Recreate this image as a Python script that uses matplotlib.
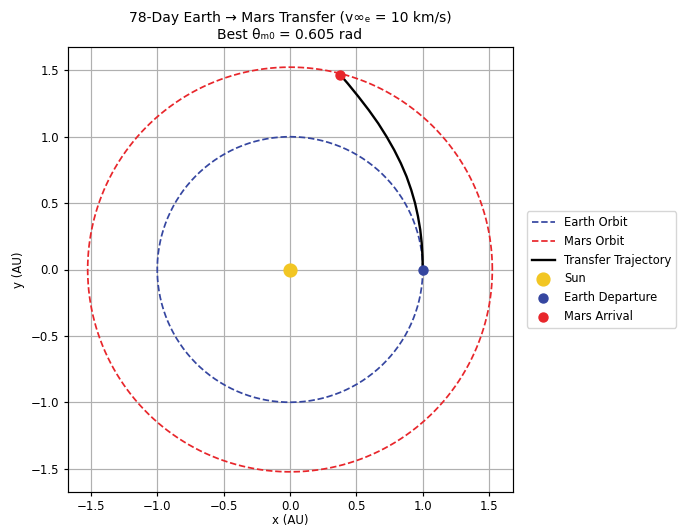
import numpy as np
import matplotlib
matplotlib.use("Agg")
import matplotlib.pyplot as plt

# Data
earth_r = 1.0
mars_r = 1.524
traj_x = [1.0, 0.998, 0.992, 0.981, 0.964, 0.942, 0.913, 0.878, 0.835, 0.785,
          0.728, 0.665, 0.594, 0.517, 0.436, 0.380]
traj_y = [0.0, 0.1, 0.2, 0.3, 0.4, 0.5, 0.6, 0.7, 0.8, 0.9,
          1.0, 1.1, 1.2, 1.3, 1.4, 1.465]
sun_xy = (0.0, 0.0)
earth_dep = (1.0, 0.0)
mars_arr = (0.380, 1.465)
ticks = [-1.5, -1.0, -0.5, 0.0, 0.5, 1.0, 1.5]

earth_c = '#3546a0'
mars_c = '#e8262b'
sun_c = '#f2c623'

plt.rcParams['font.size'] = 8.5

fig = plt.figure(figsize=(6.8, 5.27), dpi=100)
ax = fig.add_axes([67/680, 1-492/527, 446/680, 445/527])

th = np.linspace(0, 2*np.pi, 400)
ax.plot(earth_r*np.cos(th), earth_r*np.sin(th), '--', color=earth_c, lw=1.25, label='Earth Orbit')
ax.plot(mars_r*np.cos(th), mars_r*np.sin(th), '--', color=mars_c, lw=1.25, label='Mars Orbit')
ax.plot(traj_x, traj_y, '-', color='black', lw=1.7, label='Transfer Trajectory')
ax.scatter([sun_xy[0]], [sun_xy[1]], s=85, color=sun_c, label='Sun', zorder=3)
ax.scatter([earth_dep[0]], [earth_dep[1]], s=42, color=earth_c, label='Earth Departure', zorder=3)
ax.scatter([mars_arr[0]], [mars_arr[1]], s=42, color=mars_c, label='Mars Arrival', zorder=3)

ax.set_aspect('equal')
ax.set_xlim(-1.676, 1.676)
ax.set_ylim(-1.676, 1.676)
ax.set_xticks(ticks)
ax.set_yticks(ticks)
ax.grid(True, color='#b0b0b0', lw=0.85)
for s in ax.spines.values():
    s.set_linewidth(0.85)
ax.tick_params(width=0.85, length=3, pad=3)
ax.set_xlabel('x (AU)', labelpad=0.5)
ax.set_ylabel('y (AU)')
ax.set_title('78-Day Earth \u2192 Mars Transfer (v\u221e\u2091 = 10 km/s)\nBest \u03b8\u2098\u2080 = 0.605 rad', fontsize=10)
ax.legend(loc='center left', bbox_to_anchor=(1.02, 0.5), fontsize=8.3)

fig.savefig('out.png', dpi=100)
